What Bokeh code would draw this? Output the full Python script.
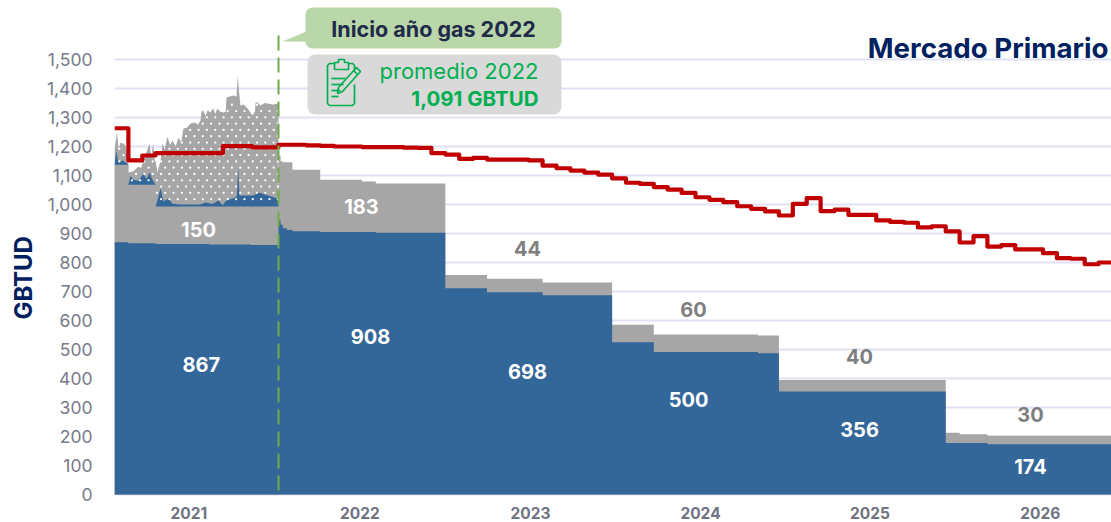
import numpy as np
from bokeh.plotting import figure
from bokeh.models import Range1d, FixedTicker, NumeralTickFormatter, Label, BoxAnnotation, Title
from bokeh.embed import file_html
from bokeh.resources import INLINE

# ---- data (months counted from the start of the 2021 gas year) ----
blue_edges = [0.2,1.2,3.15,7,10,12,12.15,12.3,12.6,13,15,19,24,27,31,36,39,46.5,48,60,63,72]
blue_vals = [870,866,864,862,860,945,930,918,912,908,905,903,711,697,687,525,491,487,355,178,173]
gray_edges = [0.2,1.2,3.15,12,12.15,12.3,13,15,18,19,24,27,31,36,39,46.5,48,60,61,63,72]
gray_vals = [1137,1068,993,1169,1149,1146,1120,1085,1079,1072,757,744,731,585,552,548,395,213,208,203]

red_months = list(range(12, 72))
red_2021_edges = [0.2,1.2,2.2,3.15,8,10.1,12]
red_2021_vals = [1263,1152,1169,1177,1201,1197]
red_vals = [1206,1206,1204,1202,1200,1200,1198,1198,1198,1196,1195,1177,
            1172,1157,1161,1155,1155,1155,1152,1134,1125,1117,1110,1103,
            1090,1075,1071,1060,1051,1040,1025,1016,1008,994,985,976,
            962,1002,1022,977,982,964,964,945,940,937,921,925,
            907,869,891,855,860,845,845,832,815,813,794,800]

# daily detail of 2021, three contract levels
daily_levels = [1137, 1068, 993]
daily_blue_x = [
    [0.2,0.34,0.44,0.63,0.78,1.0,1.2],
    [1.2,1.35,1.57,1.93,2.29,2.5,2.72,2.93,3.15],
    [3.15,3.29,3.51,3.73,4.08,4.37,4.95,6.39,6.75,7.25,7.68,7.97,8.26,8.9,9.01,9.1,9.19,9.26,10.2,10.56,11.93,12],
]
daily_blue_y = [
    [1140,1186,1152,1148,1152,1145,1137],
    [1068,1098,1085,1082,1107,1088,1110,1085,1068],
    [993,1014,1055,1010,1021,1003,1000,1000,1007,1002,1014,997,1014,1024,1030,1128,1030,1031,1031,1041,1021,1021],
]
daily_gray_x = [0.2,0.39,0.49,0.63,0.83,1.0,1.14,1.2,1.2,1.57,1.93,2.1,2.29,2.72,2.85,2.98,3.1,3.15,3.29,3.51,3.65,
                3.8,4.01,4.2,4.37,4.6,4.8,5.0,5.16,5.4,5.67,6.0,6.2,6.39,6.45,6.6,6.75,6.9,7.1,7.3,7.45,7.6,7.8,8.04,8.2,8.26,8.5,8.76,8.98,
                9.07,9.15,9.26,9.5,9.77,10.13,10.3,10.35,10.49,10.71,11.0,11.21,11.6,12]
daily_gray_y = [1193,1249,1190,1214,1210,1203,1155,1137,1110,1115,1131,1125,1150,1210,1165,1210,1150,1152,1110,1152,1210,
                1190,1234,1205,1221,1200,1231,1215,1262,1265,1279,1283,1275,1290,1320,1324,1305,1325,1317,1332,1312,1331,1320,1317,1320,1369,1372,1376,1372,
                1445,1395,1341,1345,1331,1307,1320,1352,1352,1341,1350,1348,1345,1348]

y_ticks = list(range(0, 1600, 100))
year_labels = ["2021","2022","2023","2024","2025","2026"]
year_label_pos = [5.55,17.85,30.13,42.36,54.55,66.8]

white_labels = ["150","867","183","908","698","500","356","174"]
white_x = [6.24,6.44,17.97,18.62,29.91,41.5,53.8,66.1]
white_y = [914,448,992,545,424,328,224,96]
gray_labels = ["44","60","40","30"]
gray_x = [29.91,41.86,53.8,66.1]
gray_y = [848,638,476,276]

BLUE, GRAY, RED = "#336699", "#a6a6a6", "#c00000"
GREEN = "#70ad47"; GRN_TXT = "#00b050"; NAVY = "#002060"
PY = 0.29; PM = 13.9

p = figure(width=1111, height=522, output_backend="svg", toolbar_location=None,
           x_range=Range1d(0.2, 0.2 + 997 / PM), y_range=Range1d(-2 / PY, 494 / PY),
           min_border_left=114, min_border_right=0, min_border_top=0, min_border_bottom=26,
           outline_line_color=None, background_fill_color="white", margin=(0, 0, 0, 0))

X = lambda px: 0.2 + (px - 114) / PM
Y = lambda py: (494 - py) / PY

p.xgrid.visible = False
p.ygrid.ticker = FixedTicker(ticks=y_ticks)
p.ygrid.grid_line_color = "#dfe2f5"
p.ygrid.grid_line_width = 2

ax = p.yaxis[0]
ax.ticker = FixedTicker(ticks=y_ticks)
ax.formatter = NumeralTickFormatter(format="0,0")
ax.axis_line_color = None
ax.major_tick_line_color = None
ax.minor_tick_line_color = None
ax.major_label_text_font = "Inter"
ax.major_label_text_font_size = "17.5px"
ax.major_label_text_color = "#767a89"
ax.major_label_standoff = 16

bx = p.xaxis[0]
bx.ticker = FixedTicker(ticks=year_label_pos)
bx.major_label_overrides = {k: v for k, v in zip(year_label_pos, year_labels)}
bx.axis_line_color = None
bx.major_tick_line_color = None
bx.minor_tick_line_color = None
bx.major_label_text_font = "Inter"
bx.major_label_text_font_style = "bold"
bx.major_label_text_font_size = "15.5px"
bx.major_label_text_color = "#6f7382"
bx.major_label_standoff = 4

p.add_layout(Title(text="GBTUD", align="left", offset=177, standoff=12, text_font="Inter",
                   text_font_size="24px", text_font_style="bold", text_color=NAVY), "left")


def steps(edges, vals):
    xs = np.repeat(np.asarray(edges, float), 2)[1:-1]
    ys = np.repeat(np.asarray(vals, float), 2)
    return xs, ys


# gray areas
p.varea(x=daily_gray_x, y1=0, y2=daily_gray_y, fill_color=GRAY)
gx, gy = steps(gray_edges, gray_vals)
p.varea(x=gx, y1=0, y2=gy, fill_color=GRAY)
# daily blue on top of the levels
for lv, dx, dy in zip(daily_levels, daily_blue_x, daily_blue_y):
    p.varea(x=dx, y1=lv, y2=dy, fill_color=BLUE)
# blue step area
bxs, bys = steps(blue_edges, blue_vals)
p.varea(x=bxs, y1=0, y2=bys, fill_color=BLUE)

# white dot texture of the 2021 daily area
dots_x, dots_y = [], []
for r in range(0, 70):
    yy = 975 + r * 21.7
    off = 0 if r % 2 == 0 else 0.3
    for c in range(0, 22):
        xx = 0.55 + off + c * 0.6
        if xx >= 12:
            continue
        top = np.interp(xx, daily_gray_x, daily_gray_y)
        lvl = daily_levels[0] if xx < 1.2 else daily_levels[1] if xx < 3.15 else daily_levels[2]
        if lvl + 5 < yy < top - 8:
            dots_x.append(xx); dots_y.append(yy)
p.scatter(dots_x, dots_y, size=2.3, marker="circle", fill_color="white", line_color=None)

# red line
rx = red_2021_edges + [m + 1 for m in red_months]
rv = red_2021_vals + red_vals
rsx, rsy = steps(rx, rv)
p.line(rsx, rsy, line_color=RED, line_width=4.2, line_join="round")

# dashed start-of-year marker
p.line([12, 12], [Y(490), Y(32)], line_color=GREEN, line_width=2, line_dash="15 7")

# callouts
g_box = BoxAnnotation(left=X(305), right=X(561), top=Y(7), bottom=Y(48), fill_color="#b9d7a8", fill_alpha=1,
                      line_color=None, border_radius=7, level="glyph")
p.add_layout(g_box)
p.patch([X(282), X(306), X(306)], [Y(41), Y(31), Y(41)], fill_color="#b9d7a8", line_color=None)
k_box = BoxAnnotation(left=X(307), right=X(561), top=Y(54), bottom=Y(114), fill_color="#d9d9d9", fill_alpha=1,
                      line_color=None, border_radius=8, level="glyph")
p.add_layout(k_box)

# clipboard icon
icon = [
    [(334,63),(329,63),(327,65),(327,103),(329,105),(352,105),(354,103),(354,84)],
    [(348,63),(352,63),(354,65),(354,70)],
    [(334,69),(334,62),(338,62),(338,59),(344,59),(344,62),(348,62),(348,69),(334,69)],
    [(331,78),(345,78)], [(331,84),(343,84)], [(331,90),(340,90)], [(331,96),(338,96)],
    [(338,87),(356,67),(360,71),(342,91),(337,93),(338,87)],
    [(353,70),(357,74)],
]
p.multi_line([[X(a) for a, _ in s] for s in icon], [[Y(b) for _, b in s] for s in icon],
             line_color=GRN_TXT, line_width=1.7, level="annotation")


def lab(x, y, t, size, color, style="bold", align="center", baseline="middle", angle=0):
    p.add_layout(Label(x=x, y=y, text=t, text_font="Inter", text_font_size=size, text_color=color,
                       text_font_style=style, text_align=align, text_baseline=baseline, angle=angle))


for t, x, y in zip(white_labels, white_x, white_y):
    lab(x, y, t, "20px", "white")
for t, x, y in zip(gray_labels, gray_x, gray_y):
    lab(x, y, t, "20px", "#7f7f7f")

lab(X(433), Y(28), "Inicio año gas 2022", "21.5px", "#1f2a4a")
lab(X(538), Y(70), "promedio 2022", "22px", GRN_TXT, style="normal", align="right")
lab(X(538), Y(98), "1,091 GBTUD", "20.5px", GRN_TXT, align="right")
lab(X(1108), Y(47), "Mercado Primario", "27.7px", NAVY, align="right")

open("out.html", "w").write(file_html(p, INLINE))
